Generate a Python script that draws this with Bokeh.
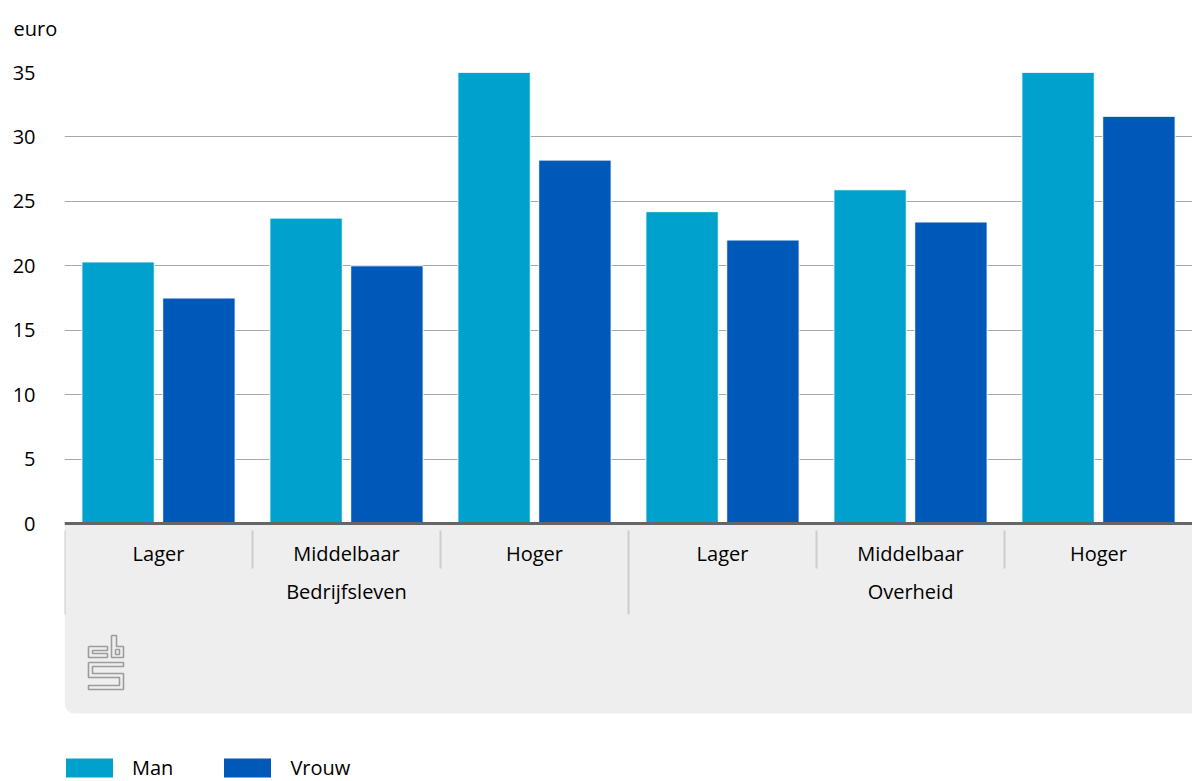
from bokeh.plotting import figure
from bokeh.models import (FactorRange, Range1d, FixedTicker, ColumnDataSource, Span,
                          BoxAnnotation, Title, Legend, LegendItem)
from bokeh.transform import dodge
from bokeh.core.properties import value
from bokeh.embed import file_html
from bokeh.resources import INLINE

sectors = ["Bedrijfsleven", "Overheid"]
levels = ["Lager", "Middelbaar", "Hoger"]
series = ["Man", "Vrouw"]
man = [20.3, 23.7, 35.0, 24.2, 25.9, 35.0]
vrouw = [17.5, 20.0, 28.2, 22.0, 23.4, 31.6]
yticks = [0, 5, 10, 15, 20, 25, 30, 35]
unit_label = "euro"

FONT = "Open Sans"
C_MAN = "#00a1cd"
C_VROUW = "#0058b8"
TXT = "#000000"

factors = [(s, l) for s in sectors for l in levels]

W, H = 1192, 781
TOP, LEFT = 72, 64
FRAME_W = W - LEFT
FRAME_H = H - TOP
PX_PER_UNIT = 451 / 35.0          # 0 -> 35 spans 451 px
y_end = max(yticks)
y_start = y_end - FRAME_H / PX_PER_UNIT


def dy(px):
    """pixels below the zero line -> data units"""
    return -px / PX_PER_UNIT


p = figure(width=W, height=H, output_backend="svg", toolbar_location=None,
           x_range=FactorRange(*factors, group_padding=0, factor_padding=0, range_padding=0),
           y_range=Range1d(y_start, y_end),
           x_axis_location=None, y_axis_location="left",
           min_border_left=LEFT, min_border_right=0, min_border_top=TOP, min_border_bottom=0)
p.outline_line_color = None
p.background_fill_color = "white"
p.border_fill_color = "white"

# y axis
p.yaxis.ticker = FixedTicker(ticks=yticks)
p.yaxis.axis_line_color = None
p.yaxis.major_tick_line_color = None
p.yaxis.minor_tick_line_color = None
p.yaxis.major_tick_out = 0
p.yaxis.major_tick_in = 0
p.yaxis.major_label_standoff = 29
p.yaxis.major_label_text_font = FONT
p.yaxis.major_label_text_font_size = "20px"
p.yaxis.major_label_text_color = TXT
p.ygrid.ticker = FixedTicker(ticks=yticks[1:])
p.ygrid.grid_line_color = "#a8a8a8"
p.ygrid.grid_line_width = 1.2
p.xgrid.grid_line_color = None

# unit title (a thin spacer title keeps it clear of the frame)
p.add_layout(Title(text=" ", text_font_size="1px", standoff=27), "above")
p.add_layout(Title(text=unit_label, align="left", offset=-51, standoff=2,
                   text_font=FONT, text_font_size="20px", text_font_style="normal",
                   text_color=TXT), "above")

# grey category panel
box = BoxAnnotation(top=0, bottom=dy(190), fill_color="#eeeeee", fill_alpha=1,
                    line_color=None, level="underlay", border_radius=(0, 0, 0, 10))
p.add_layout(box)

src = ColumnDataSource(dict(x=factors, man=man, vrouw=vrouw))
r_man = p.vbar(x=dodge("x", -0.215, range=p.x_range), top="man", width=0.385, source=src,
               fill_color=C_MAN, line_color="white", line_width=1)
r_vrouw = p.vbar(x=dodge("x", 0.215, range=p.x_range), top="vrouw", width=0.385, source=src,
                 fill_color=C_VROUW, line_color="white", line_width=1)

p.add_layout(Span(location=0, dimension="width", line_color="#666666", line_width=3))

# category labels
p.text(x=factors, y=[dy(30)] * len(factors), text=[f[1] for f in factors],
       text_font=value(FONT), text_font_size="20px", text_color=TXT,
       text_align="center", text_baseline="middle")
p.text(x=sectors, y=[dy(68)] * len(sectors), text=sectors,
       text_font=value(FONT), text_font_size="20px", text_color=TXT,
       text_align="center", text_baseline="middle")

# separators
short_x = [(s, l, -0.5) for s in sectors for l in levels[1:]]
long_x = [(s, levels[0], -0.5) for s in sectors]
p.segment(x0=short_x, x1=short_x, y0=[dy(7)] * len(short_x), y1=[dy(45)] * len(short_x),
          line_color="#cccccc", line_width=2)
p.segment(x0=long_x, x1=long_x, y0=[dy(7)] * len(long_x), y1=[dy(91)] * len(long_x),
          line_color="#cccccc", line_width=2)

# cbs logo (decoration), outlines in pixel offsets from the logo's top-left
GROUP_PX = FRAME_W / len(factors)
LOGO_X0, LOGO_Y0 = 24, 112        # px right of frame left, px below zero line
logo_paths = [
    [(0, 11), (19, 11), (19, 15), (4, 15), (4, 18), (19, 18), (19, 22), (0, 22), (0, 11)],
    [(23, 0), (28, 0), (28, 11), (35, 11), (35, 22), (23, 22), (23, 0)],
    [(27, 14), (31, 14), (31, 19), (27, 19), (27, 14)],
    [(0, 27), (35, 27), (35, 31), (4, 31), (4, 38), (35, 38), (35, 54), (0, 54), (0, 50),
     (31, 50), (31, 42), (0, 42), (0, 27)],
]
lx, ly = [], []
for path in logo_paths:
    lx.append([(factors[0][0], factors[0][1], (LOGO_X0 + px) / GROUP_PX - 0.5) for px, _ in path])
    ly.append([dy(LOGO_Y0 + py) for _, py in path])
p.multi_line(xs=lx, ys=ly, line_color="#9c9c9c", line_width=1.6)

legend = Legend(items=[LegendItem(label=series[0], renderers=[r_man]),
                       LegendItem(label=series[1], renderers=[r_vrouw])],
                orientation="horizontal", location=(-5, 0),
                glyph_width=60, glyph_height=25, label_standoff=13, spacing=44,
                padding=0, margin=0, background_fill_alpha=0, border_line_color=None,
                label_text_font=FONT, label_text_font_size="20px", label_text_color=TXT)
p.add_layout(legend)

open("out.html", "w").write(file_html(p, INLINE))
